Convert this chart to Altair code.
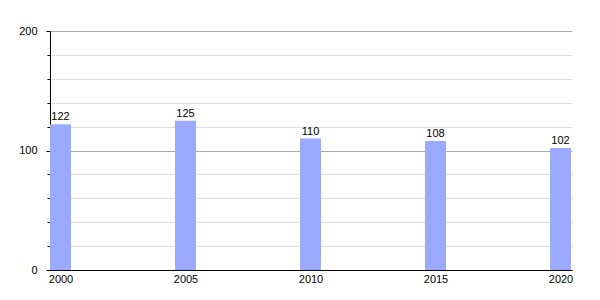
import altair as alt
import pandas as pd

years = [2000, 2005, 2010, 2015, 2020]
values = [122, 125, 110, 108, 102]

df = pd.DataFrame({"year": years, "value": values})

FONT = "Liberation Sans"

x = alt.X("year:Q",
          scale=alt.Scale(domain=[1999.58, 2020.46], nice=False, zero=False, padding=0),
          axis=alt.Axis(values=years, format="d", title=None, grid=False,
                        ticks=False, domainColor="black", labelColor="black",
                        labelFont=FONT, labelFontSize=11, labelPadding=3,
                        labelFlush=False, labelOverlap=False))
y = alt.Y("value:Q",
          scale=alt.Scale(domain=[0, 200], nice=False, padding=0),
          axis=alt.Axis(values=list(range(0, 201, 20)), tickCount=20, title=None,
                        labelOverlap=False,
                        labelExpr="datum.value % 100 === 0 ? datum.label : ''",
                        gridColor={"condition": {"test": "datum.value % 100 === 0", "value": "#aaaaaa"}, "value": "#dddddd"},
                        tickSize={"condition": {"test": "datum.value % 100 === 0", "value": 4}, "value": 3},
                        tickColor="black", domainColor="black", labelColor="black",
                        labelFont=FONT, labelFontSize=11, labelPadding=9))

bars = alt.Chart(df).mark_bar(color="#99aaff", size=21).encode(x=x, y=y)
text = alt.Chart(df).mark_text(baseline="bottom", dy=-2, font=FONT,
                               fontSize=11, color="black").encode(
    x="year:Q", y="value:Q", text="value:Q")

chart = alt.layer(bars, text).properties(
    width=522, height=239,
    autosize=alt.AutoSizeParams(type="none"),
    padding={"left": 50, "top": 31, "right": 28, "bottom": 30},
).configure_view(stroke=None).configure_axis(domainWidth=1)

chart.save("out.html", embed_options={"renderer": "svg", "actions": False})
